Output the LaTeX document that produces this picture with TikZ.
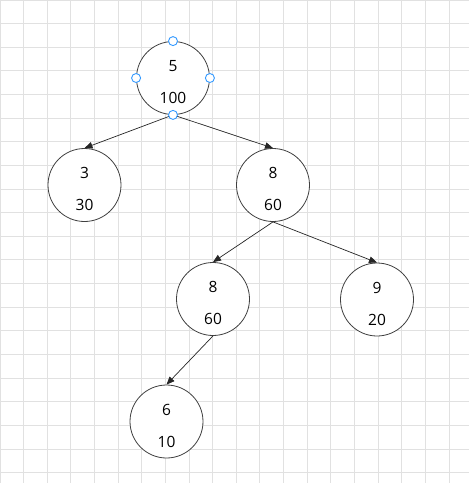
\documentclass[tikz,border=0pt]{standalone}
\usepackage{xcolor}
\usepackage{fontspec}
\setmainfont{Open Sans}
\usepackage{tikz}
\usetikzlibrary{arrows.meta,positioning}

\definecolor{gridgray}{RGB}{225,225,225}
\definecolor{handleblue}{RGB}{51,153,255}

\begin{document}
\begin{tikzpicture}[
  x=1pt, y=-1pt,
  font=\fontsize{15.5}{18}\selectfont,
  tnode/.style={circle, draw=black!75, line width=0.8pt, fill=white,
                align=center, minimum size=73pt, inner sep=0pt},
  handle/.style={circle, draw=handleblue, line width=0.9pt, fill=white,
                 minimum size=9pt, inner sep=0pt},
  gridline/.style={draw=gridgray, line width=0.9pt},
  arr/.style={-{Triangle[length=8pt, width=6.5pt]}, draw=black!85, line width=0.7pt}
]
\useasboundingbox (0,0) rectangle (469,483);
\fill[white] (0,0) rectangle (469,483);
\foreach \i in {0,...,19}
  \draw[gridline] ({\i*23.63},0) -- ({\i*23.63},483);
\foreach \j in {0,...,20}
  \draw[gridline] (0,{\j*23.63}) -- (469,{\j*23.63});

\node[tnode] (root) at (173,78)    {5\\[14pt]100\\[-26pt]};
\node[tnode] (n3)   at (84.5,185)  {3\\[14pt]30\\[-26pt]};
\node[tnode] (n8)   at (273,185)   {8\\[14pt]60\\[-26pt]};
\node[tnode] (n8b)  at (213,299)   {8\\[14pt]60\\[-26pt]};
\node[tnode] (n9)   at (377,299.5) {9\\[14pt]20\\[-26pt]};
\node[tnode] (n6)   at (166.5,421.5) {6\\[14pt]10\\[-26pt]};

\draw[arr] (root.south) -- (n3.north);
\draw[arr] (root.south) -- (n8.north);
\draw[arr] (n8.south)   -- (n8b.north);
\draw[arr] (n8.south)   -- (n9.north);
\draw[arr] (n8b.south)  -- (n6.north);

\node[handle] (hN) at (root.north) {};
\node[handle] (hW) at (root.west)  {};
\node[handle] (hE) at (root.east)  {};
\node[handle] (hS) at (root.south) {};
\end{tikzpicture}
\end{document}
